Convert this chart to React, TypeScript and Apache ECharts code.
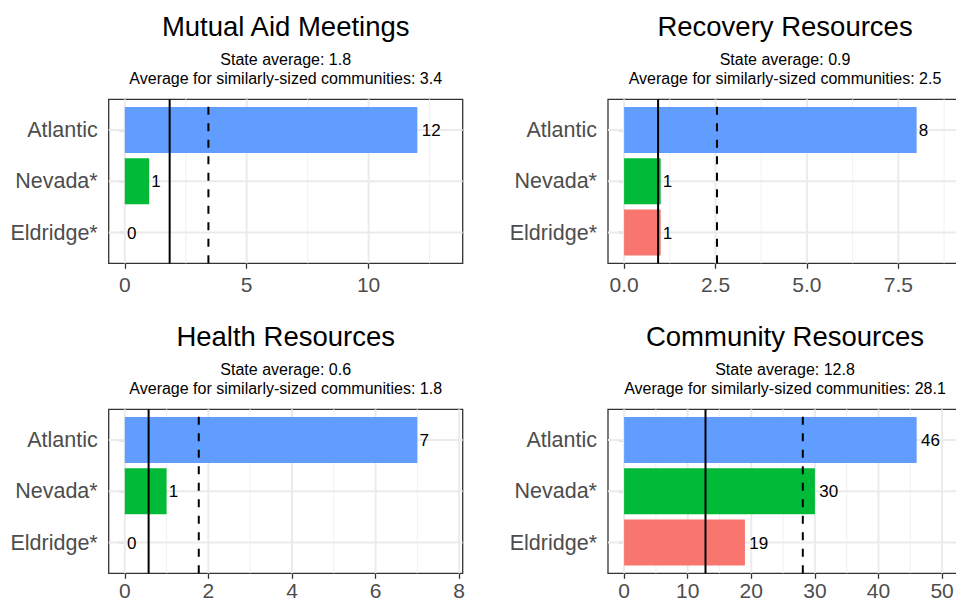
import React, { useEffect, useRef } from 'react';
import * as echarts from 'echarts';

// ---- data ----
const categories = ['Eldridge*', 'Nevada*', 'Atlantic']; // bottom -> top (y = 1, 2, 3)
const categoryColors = ['#F8766D', '#00BA38', '#619CFF'];
const titles = ['Mutual Aid Meetings', 'Recovery Resources', 'Health Resources', 'Community Resources'];
const atlanticValues = [12, 8, 7, 46];
const nevadaValues = [1, 1, 1, 30];
const eldridgeValues = [0, 1, 0, 19];
const stateAverages = [1.84, 0.93, 0.57, 12.8];
const similarAverages = [3.43, 2.54, 1.77, 28.1];
const majorBreaks = [
  [0, 5, 10],
  [0, 2.5, 5, 7.5],
  [0, 2, 4, 6, 8],
  [0, 10, 20, 30, 40, 50],
];
const minorBreaks = [
  [2.5, 7.5, 12.5],
  [1.25, 3.75, 6.25, 8.75],
  [1, 3, 5, 7],
  [5, 15, 25, 35, 45],
];
const tickLabels = [
  ['0', '5', '10'],
  ['0.0', '2.5', '5.0', '7.5'],
  ['0', '2', '4', '6', '8'],
  ['0', '10', '20', '30', '40', '50'],
];
const categoryPositions = [1, 2, 3];

// ---- layout ----
const FONT = '"Liberation Sans", Arial, sans-serif';
const PLOT_W = 354;
const PLOT_H = 164;
const COL_LEFT = [108.7, 608];
const ROW_TOP = [99.3, 409.3];
const ROW_LABEL_MARGIN = [10.5, 6.5];
const Y_MIN = 0.4;
const Y_MAX = 3.6;

function buildOption() {
  const grids: any[] = [];
  const xAxes: any[] = [];
  const yAxes: any[] = [];
  const series: any[] = [];
  const graphics: any[] = [];

  for (let i = 0; i < 4; i++) {
    const col = i % 2;
    const row = Math.floor(i / 2);
    const left = COL_LEFT[col];
    const top = ROW_TOP[row];
    const vals = [eldridgeValues[i], nevadaValues[i], atlanticValues[i]];
    const limit = Math.max(...vals) * 1.1;
    const xMin = -0.05 * limit;
    const xMax = 1.05 * limit;

    grids.push({
      left,
      top,
      width: PLOT_W,
      height: PLOT_H,
      show: true,
      borderColor: '#333333',
      borderWidth: 1.3,
      backgroundColor: 'transparent',
      containLabel: false,
      outerBoundsMode: 'none',
    });

    const breaks = majorBreaks[i];
    const labels = tickLabels[i];
    xAxes.push({
      type: 'value',
      gridIndex: i,
      min: xMin,
      max: xMax,
      axisLine: { show: false },
      axisTick: {
        show: true,
        length: 5.5,
        customValues: breaks,
        lineStyle: { color: '#333333', width: 1.3 },
      },
      axisLabel: {
        customValues: breaks,
        formatter: (v: number) => {
          const idx = breaks.findIndex((b) => Math.abs(b - v) < 1e-9);
          return idx >= 0 ? labels[idx] : '';
        },
        color: '#4D4D4D',
        fontSize: 21,
        fontFamily: FONT,
        margin: ROW_LABEL_MARGIN[row],
      },
      splitLine: { show: false },
    });

    yAxes.push({
      type: 'value',
      gridIndex: i,
      min: Y_MIN,
      max: Y_MAX,
      axisLine: { show: false },
      axisTick: {
        show: true,
        length: 5.5,
        customValues: categoryPositions,
        lineStyle: { color: '#333333', width: 1.3 },
      },
      axisLabel: {
        customValues: categoryPositions,
        formatter: (v: number) => categories[Math.round(v) - 1] || '',
        color: '#4D4D4D',
        fontSize: 21.5,
        fontFamily: FONT,
        margin: 11,
      },
      splitLine: { show: false },
    });

    // gridlines: [x, y, kind] kind 0 minor vertical, 1 major vertical, 2 horizontal
    const gridData: number[][] = [];
    minorBreaks[i].forEach((b) => gridData.push([b, 2, 0]));
    breaks.forEach((b) => gridData.push([b, 2, 1]));
    categoryPositions.forEach((p) => gridData.push([0, p, 2]));

    series.push({
      type: 'custom',
      xAxisIndex: i,
      yAxisIndex: i,
      silent: true,
      encode: { x: 0, y: 1 },
      data: gridData,
      renderItem: (params: any, api: any) => {
        const kind = api.value(2);
        if (kind === 2) {
          const y = api.value(1);
          const p1 = api.coord([xMin, y]);
          const p2 = api.coord([xMax, y]);
          return {
            type: 'line',
            shape: { x1: p1[0], y1: p1[1], x2: p2[0], y2: p2[1] },
            style: { stroke: '#EBEBEB', lineWidth: 2 },
          };
        }
        const x = api.value(0);
        const p1 = api.coord([x, Y_MIN]);
        const p2 = api.coord([x, Y_MAX]);
        return {
          type: 'line',
          shape: { x1: p1[0], y1: p1[1], x2: p2[0], y2: p2[1] },
          style: { stroke: kind === 1 ? '#EBEBEB' : '#F2F2F2', lineWidth: kind === 1 ? 2 : 1.1 },
        };
      },
    });

    // bars
    const barData = vals.map((v, k) => [v, categoryPositions[k], k]);
    series.push({
      type: 'custom',
      xAxisIndex: i,
      yAxisIndex: i,
      silent: true,
      encode: { x: 0, y: 1 },
      data: barData,
      renderItem: (params: any, api: any) => {
        const v = api.value(0);
        const y = api.value(1);
        const k = api.value(2);
        const start = api.coord([0, y]);
        const end = api.coord([v, y]);
        const h = Math.abs(api.size([0, 0.9])[1]);
        const txt = String(v);
        return {
          type: 'group',
          children: [
            {
              type: 'rect',
              shape: { x: start[0], y: start[1] - h / 2, width: end[0] - start[0], height: h },
              style: { fill: categoryColors[k] },
            },
            {
              type: 'text',
              x: end[0] + 2.2 * txt.length,
              y: end[1] + 0.5,
              style: {
                text: txt,
                fill: '#000000',
                fontSize: 17,
                fontFamily: FONT,
                align: 'left',
                verticalAlign: 'middle',
              },
            },
          ],
        };
      },
    });

    // average lines: [value, y, dashed?]
    const avgData = [
      [stateAverages[i], 2, 0],
      [similarAverages[i], 2, 1],
    ];
    series.push({
      type: 'custom',
      xAxisIndex: i,
      yAxisIndex: i,
      silent: true,
      encode: { x: 0, y: 1 },
      data: avgData,
      renderItem: (params: any, api: any) => {
        const x = api.value(0);
        const dashed = api.value(2) === 1;
        const p1 = api.coord([x, Y_MIN]);
        const p2 = api.coord([x, Y_MAX]);
        return {
          type: 'line',
          shape: { x1: p1[0], y1: p1[1], x2: p2[0], y2: p2[1] },
          style: {
            stroke: '#000000',
            lineWidth: 2,
            lineDash: dashed ? [8, 8.5] : null,
          },
        };
      },
    });

    const cx = left + PLOT_W / 2;
    graphics.push({
      type: 'text',
      x: cx,
      y: top - 73.3,
      style: {
        text: titles[i],
        fill: '#000000',
        fontSize: 27.5,
        fontFamily: FONT,
        align: 'center',
        verticalAlign: 'middle',
      },
    });
    graphics.push({
      type: 'text',
      x: cx,
      y: top - 39.5,
      style: {
        text: 'State average: ' + stateAverages[i].toFixed(1),
        fill: '#000000',
        fontSize: 16,
        fontFamily: FONT,
        align: 'center',
        verticalAlign: 'middle',
      },
    });
    graphics.push({
      type: 'text',
      x: cx,
      y: top - 20.8,
      style: {
        text: 'Average for similarly-sized communities: ' + similarAverages[i].toFixed(1),
        fill: '#000000',
        fontSize: 16,
        fontFamily: FONT,
        align: 'center',
        verticalAlign: 'middle',
      },
    });
  }

  return {
    animation: false,
    backgroundColor: '#FFFFFF',
    grid: grids,
    xAxis: xAxes,
    yAxis: yAxes,
    series,
    graphic: graphics,
  };
}

export default function App() {
  const ref = useRef<HTMLDivElement>(null);
  useEffect(() => {
    if (!ref.current) return;
    const chart = echarts.init(ref.current, undefined, { renderer: 'svg' });
    chart.setOption(buildOption() as any);
    return () => {
      chart.dispose();
    };
  }, []);
  return (
    <div
      ref={ref}
      style={{ position: 'absolute', left: 0, top: 0, width: 956, height: 601 }}
    />
  );
}
